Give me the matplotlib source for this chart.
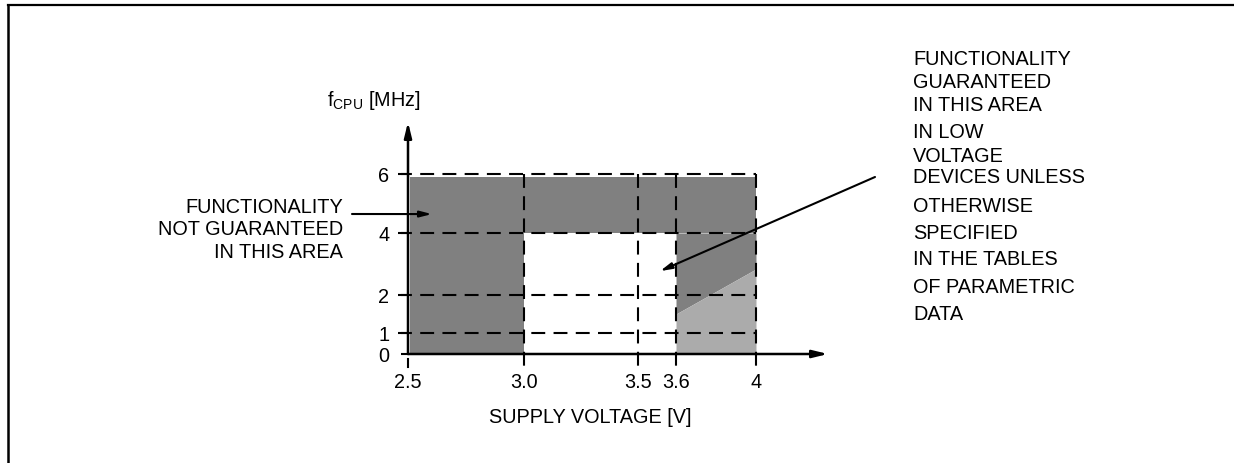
import matplotlib
matplotlib.use('Agg')
import matplotlib.pyplot as plt
from matplotlib.lines import Line2D
import numpy as np

plt.rcParams['font.family'] = ['Liberation Sans', 'DejaVu Sans']
plt.rcParams['mathtext.fontset'] = 'custom'
plt.rcParams['mathtext.rm'] = 'Liberation Sans'
plt.rcParams['lines.scale_dashes'] = False

# data
volt_ticks = [2.5, 3.0, 3.5, 3.6, 4.0]
volt_labels = ['2.5', '3.0', '3.5', '3.6', '4']
freq_ticks = [0, 1, 2, 4, 6]
freq_labels = ['0', '1', '2', '4', '6']

# not-guaranteed area (dark) and low-voltage-device area (light)
ng_low_x = [2.51, 3.0]
ng_top = 5.9
ng_band_x = [3.0, 4.0]
ng_band_y = [4.0, 5.9]
lv_x = [3.6, 4.0]
lv_edge = [1.5, 2.84]

left_lines = ['FUNCTIONALITY', 'NOT GUARANTEED', 'IN THIS AREA']
left_baselines = [213, 235, 258]
note_lines = ['FUNCTIONALITY', 'GUARANTEED', 'IN THIS AREA', 'IN LOW', 'VOLTAGE',
              'DEVICES UNLESS', 'OTHERWISE', 'SPECIFIED', 'IN THE TABLES',
              'OF PARAMETRIC', 'DATA']
note_baselines = [65, 88, 111, 138, 162, 183, 212, 239, 265, 293, 320]

# the original axes are not linear: piecewise mapping volts/MHz -> drawing units
x_anchor = [2.0, 2.5, 3.0, 3.5, 3.6, 4.0, 5.0]
x_unit = [292, 408, 524, 638, 676, 756, 956]
y_anchor = [-3, 0, 1, 2, 4, 6, 12]
y_unit = [-63, 0, 21, 59, 121, 180, 357]

W, H = 1234, 464
fig = plt.figure(figsize=(W / 100, H / 100), dpi=100)
ax = fig.add_axes([408 / W, 109 / H, 420 / W, 232 / H])
ax.set_xscale('function', functions=(lambda v: np.interp(v, x_anchor, x_unit),
                                     lambda p: np.interp(p, x_unit, x_anchor)))
ax.set_yscale('function', functions=(lambda v: np.interp(v, y_anchor, y_unit),
                                     lambda p: np.interp(p, y_unit, y_anchor)))
ax.set_xlim(2.5, 4.36)
ax.set_ylim(0, 7.76)
for s in ax.spines.values():
    s.set_visible(False)

dark, light = '#808080', '#ababab'
ax.fill_between(ng_low_x, 0, ng_top, color=dark, lw=0, zorder=1)
ax.fill_between(ng_band_x, ng_band_y[0], ng_band_y[1], color=dark, lw=0, zorder=1)
ax.fill_between(lv_x, lv_edge, 4.0, color=dark, lw=0, zorder=1)
ax.fill_between(lv_x, 0, lv_edge, color=light, lw=0, zorder=1)

dash = dict(color='black', lw=1.5, linestyle=(0, (10, 6)), clip_on=False, zorder=2)
for f in freq_ticks[1:]:
    ax.plot([2.457, 4.0], [f, f], **dash)
for v in volt_ticks[1:]:
    ax.plot([v, v], [6, -0.6], **dash)
ax.plot([2.5, 2.5], [-0.25, -0.6], color='black', lw=1.5, clip_on=False, zorder=2)

# axes with arrows
arr = dict(arrowstyle='-|>,head_length=0.9,head_width=0.22', lw=1.8, color='black',
           shrinkA=0, shrinkB=0)
ax.annotate('', xy=(1, 0), xytext=(0, 0), xycoords='axes fraction', arrowprops=arr, zorder=3)
ax.annotate('', xy=(0, 1), xytext=(0, 0), xycoords='axes fraction', arrowprops=arr, zorder=3)

fs = 14.3
ax.set_xticks(volt_ticks, labels=volt_labels)
ax.set_yticks(freq_ticks, labels=freq_labels)
ax.minorticks_off()
ax.tick_params(axis='x', length=0, pad=13, labelsize=fs)
ax.tick_params(axis='y', length=5, width=1.5, pad=8.5, labelsize=fs)


def fp(x, y):
    return (x / W, 1 - y / H)


fig.text(*fp(327, 106), 'f$_\\mathrm{CPU}$ [MHz]', fontsize=fs, ha='left', va='baseline')
ax.set_xlabel('SUPPLY VOLTAGE [V]', fontsize=fs)
ax.xaxis.set_label_coords(590 / W, 1 - 423 / H, transform=fig.transFigure)
ax.xaxis.label.set_va('baseline')

pointer = dict(arrowstyle='-|>,head_length=0.7,head_width=0.18', lw=1.5,
               color='black', shrinkA=0, shrinkB=0)
for line, yb in zip(left_lines, left_baselines):
    fig.text(*fp(343, yb), line, fontsize=fs, ha='right', va='baseline')
ax.annotate('', xy=(2.603, 4.64), xytext=fp(352, 215), textcoords='figure fraction',
            arrowprops=pointer, zorder=4)

for line, yb in zip(note_lines, note_baselines):
    fig.text(*fp(913, yb), line, fontsize=fs, ha='left', va='baseline')
ax.annotate('', xy=(3.558, 2.77), xytext=fp(875, 178), textcoords='figure fraction',
            arrowprops=pointer, zorder=4)

# page frame
fig.add_artist(Line2D([7.5 / W, 1], [1 - 5.5 / H] * 2, transform=fig.transFigure,
                      color='black', lw=1.6))
fig.add_artist(Line2D([7.8 / W] * 2, [1 - 5.5 / H, 0], transform=fig.transFigure,
                      color='black', lw=1.8))

fig.savefig('out.png', dpi=100)
